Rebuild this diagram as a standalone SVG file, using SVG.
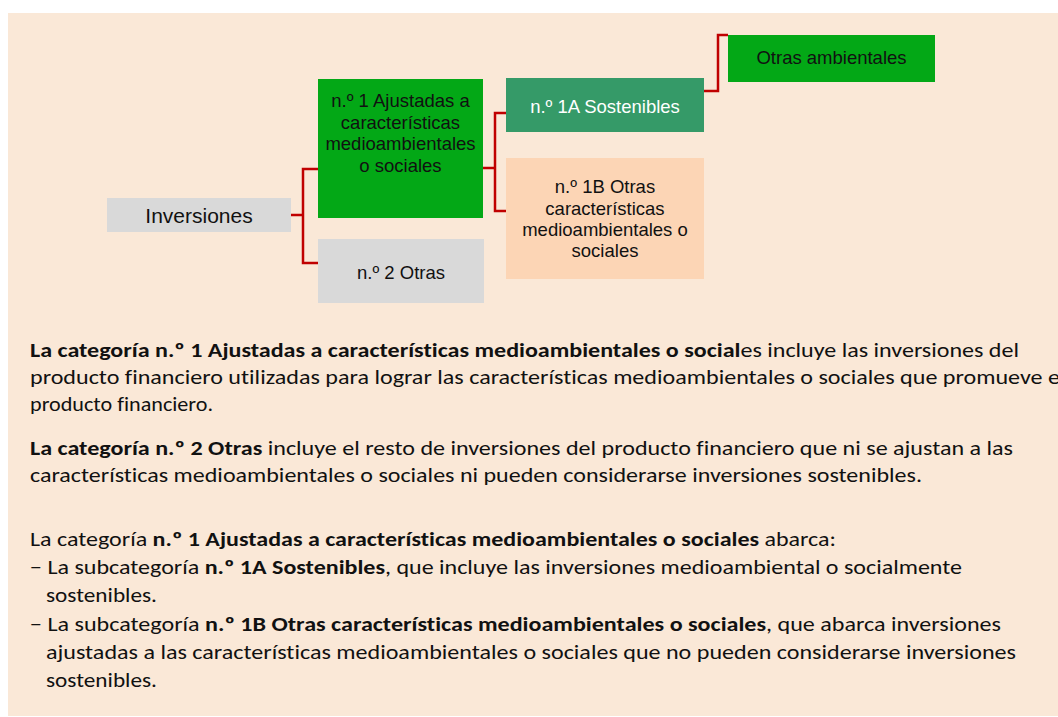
<svg xmlns="http://www.w3.org/2000/svg" width="1058" height="717" viewBox="0 0 1058 717">
<style>
.box{font-family:"Liberation Sans",Arial,sans-serif;font-size:18.5px;fill:#111;text-anchor:middle}
.wt{fill:#fff}
.conn{fill:none;stroke:#C00000;stroke-width:2.5}
.p{font-family:Carlito,Calibri,Lato,"Liberation Sans",sans-serif;font-size:20px;fill:#111;font-variant-ligatures:none;font-feature-settings:"liga" 0,"dlig" 0}
.b{font-weight:bold}
</style>
<rect x="0" y="0" width="1058" height="717" fill="#ffffff"/>
<rect x="8" y="13" width="1050" height="703" fill="#FAE8D7"/>
<g id="connectors">
<path class="conn" d="M318,169 H303 V263 H318 M291,215 H303"/>
<path class="conn" d="M506,113 H495 V211 H506 M483,168 H495"/>
<path class="conn" d="M704,91 H718 V35 H728"/>
</g>
<g id="inversiones">
<rect x="107" y="198" width="184" height="34" fill="#D9D9D9"/>
<text class="box" x="199" y="223" style="font-size:21px">Inversiones</text>
</g>
<g id="n1">
<rect x="318" y="79" width="165" height="139" fill="#03A816"/>
<text class="box" x="400.5" y="107">n.º 1 Ajustadas a</text>
<text class="box" x="400.5" y="128.5">características</text>
<text class="box" x="400.5" y="150">medioambientales</text>
<text class="box" x="400.5" y="171.5">o sociales</text>
</g>
<g id="n2">
<rect x="318" y="239" width="166" height="64" fill="#D9D9D9"/>
<text class="box" x="401" y="279">n.º 2 Otras</text>
</g>
<g id="n1a">
<rect x="506" y="78" width="198" height="54" fill="#359A68"/>
<text class="box wt" x="605" y="113">n.º 1A Sostenibles</text>
</g>
<g id="n1b">
<rect x="506" y="158" width="198" height="121" fill="#FCD5B5"/>
<text class="box" x="605" y="193">n.º 1B Otras</text>
<text class="box" x="605" y="214.5">características</text>
<text class="box" x="605" y="236">medioambientales o</text>
<text class="box" x="605" y="257">sociales</text>
</g>
<g id="otras-ambientales">
<rect x="728" y="35" width="207" height="47" fill="#03A816"/>
<text class="box" x="831.5" y="64">Otras ambientales</text>
</g>
<g id="notes">
<text class="p" x="30" y="357" textLength="989" lengthAdjust="spacingAndGlyphs"><tspan class="b">La categoría n.º 1 Ajustadas a características medioambientales o social</tspan>es incluye las inversiones del</text>
<text class="p" x="30" y="384" textLength="1030" lengthAdjust="spacingAndGlyphs">producto financiero utilizadas para lograr las características medioambientales o sociales que promueve e</text>
<text class="p" x="30" y="411" textLength="183" lengthAdjust="spacingAndGlyphs">producto financiero.</text>
<text class="p" x="30" y="455" textLength="983" lengthAdjust="spacingAndGlyphs"><tspan class="b">La categoría n.º 2 Otras</tspan> incluye el resto de inversiones del producto financiero que ni se ajustan a las</text>
<text class="p" x="30" y="482" textLength="892" lengthAdjust="spacingAndGlyphs">características medioambientales o sociales ni pueden considerarse inversiones sostenibles.</text>
<text class="p" x="30" y="546" textLength="806" lengthAdjust="spacingAndGlyphs">La categoría <tspan class="b">n.º 1 Ajustadas a características medioambientales o sociales</tspan> abarca:</text>
<text class="p" x="30" y="574" textLength="932" lengthAdjust="spacingAndGlyphs">− La subcategoría <tspan class="b">n.º 1A Sostenibles</tspan>, que incluye las inversiones medioambiental o socialmente</text>
<text class="p" x="46" y="602" textLength="111" lengthAdjust="spacingAndGlyphs">sostenibles.</text>
<text class="p" x="30" y="631" textLength="971" lengthAdjust="spacingAndGlyphs">− La subcategoría <tspan class="b">n.º 1B Otras características medioambientales o sociales</tspan>, que abarca inversiones</text>
<text class="p" x="46" y="659" textLength="970" lengthAdjust="spacingAndGlyphs">ajustadas a las características medioambientales o sociales que no pueden considerarse inversiones</text>
<text class="p" x="46" y="687" textLength="111" lengthAdjust="spacingAndGlyphs">sostenibles.</text>
</g>
</svg>
